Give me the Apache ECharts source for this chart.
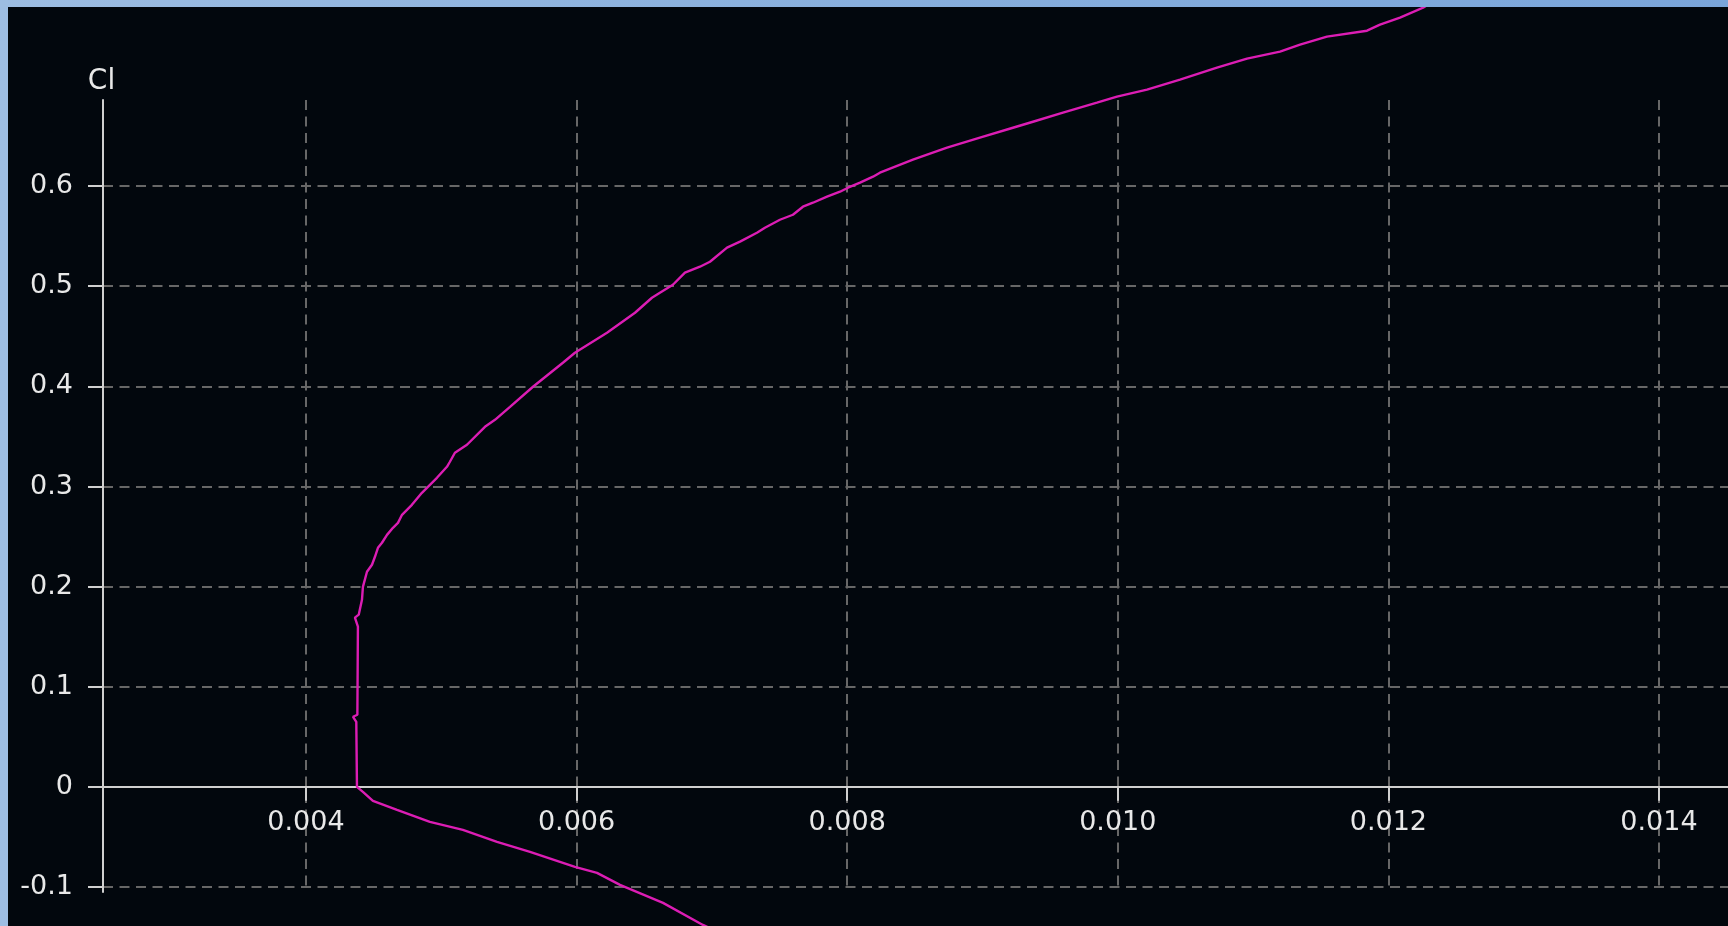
<!DOCTYPE html>
<html>
<head>
<meta charset="utf-8">
<script src="https://cdn.jsdelivr.net/npm/echarts@6/dist/echarts.min.js"></script>
<style>
  html, body { margin: 0; padding: 0; width: 1728px; height: 926px; overflow: hidden; }
  body { background: linear-gradient(90deg, #9dbde2 0%, #88afdd 50%, #7aa5da 100%); position: relative; }
  #frame { position: absolute; left: 8px; top: 7px; width: 1720px; height: 919px; background: #02070d; overflow: hidden; }
  #chart { width: 1720px; height: 919px; }
</style>
</head>
<body>
<div id="frame"><div id="chart"></div></div>
<script>
// Polar curve: drag coefficient (Cd) vs lift coefficient (Cl)
const cd = [
  0.00700, 0.006934, 0.006639, 0.006321, 0.006151, 0.005988, 0.005656, 0.005412,
  0.005160, 0.004916, 0.004673, 0.004495, 0.004421, 0.004377, 0.004372, 0.004348,
  0.004380, 0.004384, 0.004362, 0.004390, 0.004414, 0.004421, 0.004451, 0.004488,
  0.004510, 0.004532, 0.004562, 0.004599, 0.004643, 0.004680, 0.004710, 0.004783,
  0.004857, 0.004894, 0.004968, 0.005042, 0.005064, 0.005101, 0.005190, 0.005323,
  0.005397, 0.005508, 0.005678, 0.005899, 0.005988, 0.006225, 0.006432, 0.006557,
  0.006616, 0.006712, 0.006801, 0.006912, 0.006986, 0.007112, 0.007208, 0.007333,
  0.007392, 0.007503, 0.007599, 0.007673, 0.007747, 0.007851, 0.007947, 0.008006,
  0.008095, 0.008191, 0.008242, 0.008486, 0.008738, 0.008981, 0.009225, 0.009373,
  0.009595, 0.009846, 0.009994, 0.010216, 0.010460, 0.010733, 0.010955, 0.011199,
  0.011347, 0.011546, 0.011842, 0.011938, 0.012086, 0.012256, 0.012400
];
const cl = [
  -0.142, -0.1379, -0.1159, -0.0979, -0.0859, -0.0799, -0.0649, -0.0549,
  -0.0430, -0.0350, -0.0230, -0.0140, -0.0050, 0.0000, 0.0650, 0.0700,
  0.0720, 0.1600, 0.1690, 0.1720, 0.1868, 0.1998, 0.2148, 0.2218,
  0.2298, 0.2388, 0.2438, 0.2517, 0.2587, 0.2637, 0.2717, 0.2817,
  0.2937, 0.2987, 0.3087, 0.3197, 0.3247, 0.3337, 0.3417, 0.3596,
  0.3666, 0.3796, 0.3996, 0.4236, 0.4336, 0.4535, 0.4735, 0.4885,
  0.4935, 0.5015, 0.5135, 0.5195, 0.5245, 0.5385, 0.5445, 0.5534,
  0.5584, 0.5664, 0.5714, 0.5794, 0.5834, 0.5894, 0.5944, 0.5984,
  0.6034, 0.6094, 0.6134, 0.6264, 0.6384, 0.6484, 0.6583, 0.6643,
  0.6733, 0.6833, 0.6893, 0.6963, 0.7063, 0.7183, 0.7273, 0.7343,
  0.7413, 0.7493, 0.7552, 0.7612, 0.7682, 0.7782, 0.7900
];
const xTicks = [0.004, 0.006, 0.008, 0.010, 0.012, 0.014];
const yTicks = [-0.1, 0, 0.1, 0.2, 0.3, 0.4, 0.5, 0.6];
const xRange = [0.0025, 0.01451];
const yRange = [-0.105, 0.686];
const yName = 'Cl';

const points = cd.map((v, i) => [v, cl[i]]);

const textColor = '#e8e8e8';
const axisColor = '#cfcfcf';
const gridColor = '#676767';
const font = 'DejaVu Sans';

const gridTop = 93, gridBottom = 34, chartH = 919;
const plotH = chartH - gridTop - gridBottom;
// distance of the Cl = 0 line above the bottom edge of the plot
const zeroOffset = (0 - yRange[0]) / (yRange[1] - yRange[0]) * plotH;

const chart = echarts.init(document.getElementById('chart'), null, { renderer: 'canvas' });
chart.setOption({
  backgroundColor: 'transparent',
  animation: false,
  grid: { left: 95, top: gridTop, right: 0, bottom: gridBottom, outerBoundsMode: 'none' },
  xAxis: {
    type: 'value',
    position: 'bottom',
    offset: -zeroOffset,
    min: xRange[0],
    max: xRange[1],
    axisLine: { show: true, onZero: false, lineStyle: { color: axisColor, width: 2 } },
    axisTick: { show: true, length: 14, customValues: xTicks, lineStyle: { color: axisColor, width: 2 } },
    axisLabel: {
      customValues: xTicks,
      color: textColor, fontFamily: font, fontSize: 27, margin: 23,
      formatter: v => Number(v).toFixed(3)
    },
    splitLine: { show: true, lineStyle: { color: gridColor, width: 2, type: [10, 6.5] } }
  },
  yAxis: {
    type: 'value',
    min: yRange[0],
    max: yRange[1],
    name: yName,
    nameLocation: 'end',
    nameGap: 4,
    nameTextStyle: { color: textColor, fontFamily: font, fontSize: 28, padding: [0, 3, 0, 0] },
    axisLine: { show: true, onZero: false, lineStyle: { color: axisColor, width: 2 } },
    axisTick: { show: true, length: 15, customValues: yTicks, lineStyle: { color: axisColor, width: 2 } },
    axisLabel: {
      customValues: yTicks,
      color: textColor, fontFamily: font, fontSize: 27, margin: 30,
      padding: [4, 0, 0, 0],
      formatter: v => (Math.abs(v) < 1e-9 ? '0' : Number(v).toFixed(1))
    },
    splitLine: { show: true, lineStyle: { color: gridColor, width: 2, type: [10, 6.5] } }
  },
  series: [{
    type: 'line',
    data: points,
    clip: false,
    showSymbol: false,
    symbol: 'none',
    smooth: false,
    lineStyle: { color: '#dc1db4', width: 2.4 },
    z: 3
  }]
});
</script>
</body>
</html>
